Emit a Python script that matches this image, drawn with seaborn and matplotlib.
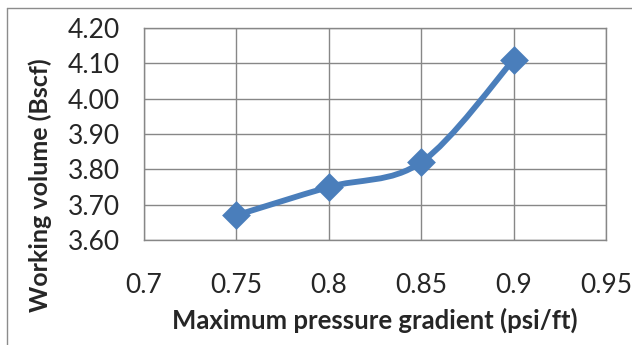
import numpy as np
import pandas as pd
import seaborn as sns
import matplotlib
matplotlib.use("Agg")
import matplotlib.pyplot as plt
from matplotlib.path import Path
from matplotlib.patches import PathPatch
from matplotlib.lines import Line2D

# Data
pressure_gradient = [0.75, 0.80, 0.85, 0.90]       # psi/ft
working_volume = [3.67, 3.75, 3.82, 4.11]          # Bscf
x_ticks = [0.7, 0.75, 0.8, 0.85, 0.9, 0.95]
x_tick_labels = ["0.7", "0.75", "0.8", "0.85", "0.9", "0.95"]
y_ticks = [3.60, 3.70, 3.80, 3.90, 4.00, 4.10, 4.20]
y_tick_labels = ["3.60", "3.70", "3.80", "3.90", "4.00", "4.10", "4.20"]

df = pd.DataFrame({"gradient": pressure_gradient, "volume": working_volume})

sns.set_theme(style="white")
plt.rcParams["font.family"] = ["Lato", "DejaVu Sans"]

W, H = 632, 345
fig = plt.figure(figsize=(W / 100, H / 100), dpi=100)
left, right, top, bottom = 144, 606, 28, 240
ax = fig.add_axes([left / W, 1 - bottom / H, (right - left) / W, (bottom - top) / H])

blue = "#4A7EBB"
grid_c = "#878787"
text_c = "#262626"

# Smoothed connecting curve (cubic Bezier segments, Catmull-Rom style handles)
pts = np.column_stack([df["gradient"].to_numpy(), df["volume"].to_numpy()])
n = len(pts)
verts = [tuple(pts[0])]
codes = [Path.MOVETO]
for i in range(n - 1):
    p0 = pts[max(i - 1, 0)]
    p1 = pts[i]
    p2 = pts[i + 1]
    p3 = pts[min(i + 2, n - 1)]
    c1 = p1 + (p2 - p0) / 6.0
    c2 = p2 - (p3 - p1) / 6.0
    verts += [tuple(c1), tuple(c2), tuple(p2)]
    codes += [Path.CURVE4] * 3
ax.add_patch(PathPatch(Path(verts, codes), facecolor="none", edgecolor=blue,
                       lw=4.2, capstyle="round", joinstyle="round", zorder=3))

# Diamond markers at the data points
sns.scatterplot(data=df, x="gradient", y="volume", ax=ax, marker="D", s=215,
                color=blue, edgecolor=blue, linewidth=0, zorder=4, legend=False)

ax.set_xlim(0.7, 0.95)
ax.set_ylim(3.60, 4.20)
ax.set_xticks(x_ticks)
ax.set_xticklabels(x_tick_labels)
ax.set_yticks(y_ticks)
ax.set_yticklabels(y_tick_labels)
ax.grid(True, color=grid_c, lw=1.0)
ax.set_axisbelow(True)
for s in ax.spines.values():
    s.set_color(grid_c)
    s.set_linewidth(1.0)
ax.tick_params(axis="both", which="both", direction="out", color=grid_c,
               width=1.0, length=6.5, labelsize=19, labelcolor=text_c)
ax.tick_params(axis="x", pad=17)
ax.tick_params(axis="y", pad=11)
ax.set_xlabel("")
ax.set_ylabel("")

fig.text(375 / W, 1 - 329 / H, "Maximum pressure gradient (psi/ft)",
         ha="center", va="baseline", fontsize=18.5, fontweight="bold", color=text_c)
fig.text(40 / W, 1 - 185 / H, "Working volume (Bscf)", rotation=90,
         ha="center", va="center", fontsize=18, fontweight="bold", color=text_c)

# Outer chart frame
fig.add_artist(Line2D([7 / W, 7 / W], [0, 1 - 8 / H], transform=fig.transFigure,
                      color="#8c8c8c", lw=1.0))
fig.add_artist(Line2D([7 / W, 1], [1 - 8 / H, 1 - 8 / H], transform=fig.transFigure,
                      color="#8c8c8c", lw=1.0))

fig.savefig("out.png", dpi=100, facecolor="white")
